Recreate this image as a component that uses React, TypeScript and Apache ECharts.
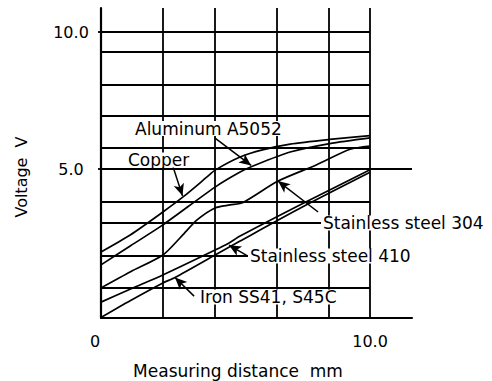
import React, { useEffect, useRef } from 'react';
import * as echarts from 'echarts';

const FONT = 'DejaVu Sans';

// axis extents (mm, V)
const X_MIN = 0;
const X_MAX = 11.56;
const Y_MIN = -0.44;
const Y_MAX = 10.88;
const GRID_X_END = 10;

// tick labels
const xTickValues = [0, 10];
const yTickValues = [5, 10];

// irregular chart grid
const gridXValues = [2.31, 4.21, 6.53, 8.45, 10];
const gridYValues = [0.655, 1.82, 3.03, 3.8, 5.77, 6.93, 8.07, 9.27, 10];
const extendedYValues = [5];

// curves: [distance mm, voltage V]
const copper = [[0, 1.97], [1.1, 2.6], [2.3, 3.43], [3.05, 3.98], [3.94, 4.71], [4.24, 4.96], [5.17, 5.44], [6.0, 5.7], [7.03, 5.91], [8.5, 6.08], [10, 6.22]];
const aluminum = [[0, 1.5], [1.1, 2.2], [2.3, 2.96], [4.24, 4.34], [5.17, 4.89], [5.65, 5.11], [7.03, 5.62], [8.5, 5.93], [10, 6.14]];
const ss304 = [[0, 0.66], [1.1, 1.25], [2.3, 1.86], [3.0, 2.55], [3.57, 3.14], [4.24, 3.58], [4.8, 3.69], [5.28, 3.78], [6.58, 4.56], [8.0, 5.15], [9.26, 5.72], [10, 5.84]];
const ss410 = [[0, 0.14], [1.1, 0.62], [2.3, 1.13], [4.24, 2.04], [4.76, 2.3], [5.17, 2.55], [7.5, 3.74], [10, 4.97]];
const iron = [[0, -0.42], [1.1, 0.2], [2.3, 0.84], [2.75, 1.04], [4.24, 1.86], [5.17, 2.37], [7.5, 3.62], [10, 4.88]];

const seriesNames = ['Copper', 'Aluminum A5052', 'Stainless steel 304', 'Stainless steel 410', 'Iron SS41, S45C'];
const seriesData = [copper, aluminum, ss304, ss410, iron];

// leader arrows in data coordinates: [from, to]
const arrows = [
  [[4.24, 6.13], [5.58, 5.13]],
  [[2.68, 5.07], [3.03, 4.02]],
  [[8.07, 3.43], [6.58, 4.56]],
  [[5.46, 1.82], [4.76, 2.22]],
  [[3.46, 0.36], [2.75, 1.04]],
];

// annotation labels (pixel layout)
const labels = [
  { text: 'Aluminum A5052', x: 133, y: 128.5 },
  { text: 'Copper', x: 126, y: 160 },
  { text: 'Stainless steel 304', x: 321, y: 223 },
  { text: 'Stainless steel 410', x: 248, y: 256 },
  { text: 'Iron SS41, S45C', x: 198, y: 297 },
];

export default function App() {
  const ref = useRef<HTMLDivElement>(null);

  useEffect(() => {
    if (!ref.current) return;
    const chart = echarts.init(ref.current, undefined, { renderer: 'svg' });

    const gridLines: any[] = [];
    gridYValues.forEach((y) => {
      if (extendedYValues.includes(y)) return;
      gridLines.push([{ coord: [X_MIN, y] }, { coord: [GRID_X_END, y] }]);
    });
    extendedYValues.forEach((y) => {
      gridLines.push([{ coord: [X_MIN, y] }, { coord: [X_MAX, y] }]);
    });
    gridXValues.forEach((x) => {
      gridLines.push([{ coord: [x, Y_MIN] }, { coord: [x, Y_MAX] }]);
    });

    const arrowLines = arrows.map(([a, b]) => [{ coord: a }, { coord: b }]);

    const series: any[] = seriesData.map((d, i) => ({
      name: seriesNames[i],
      type: 'line',
      data: d,
      showSymbol: false,
      symbol: 'none',
      smooth: 0.25,
      lineStyle: { color: '#000', width: 1.7 },
      silent: true,
      z: 3,
    }));

    series.push({
      name: 'grid',
      type: 'line',
      data: [],
      silent: true,
      z: 2,
      markLine: {
        silent: true,
        symbol: ['none', 'none'],
        label: { show: false },
        emphasis: { disabled: true },
        lineStyle: { color: '#000', width: 1.8, type: 'solid' },
        data: gridLines,
      },
    });

    series.push({
      name: 'arrows',
      type: 'line',
      data: [],
      silent: true,
      z: 4,
      markLine: {
        silent: true,
        symbol: ['none', 'arrow'],
        symbolSize: [8, 12],
        label: { show: false },
        emphasis: { disabled: true },
        lineStyle: { color: '#000', width: 1.5, type: 'solid' },
        itemStyle: { color: '#000' },
        data: arrowLines,
      },
    });

    chart.setOption({
      animation: false,
      backgroundColor: '#fff',
      textStyle: { fontFamily: FONT, color: '#000' },
      grid: { left: 101, right: 80, top: 8, bottom: 63, containLabel: false, outerBoundsMode: 'none' },
      xAxis: {
        type: 'value',
        min: X_MIN,
        max: X_MAX,
        axisLine: { show: true, onZero: false, lineStyle: { color: '#000', width: 2.2 } },
        axisTick: { show: false },
        splitLine: { show: false },
        axisLabel: {
          customValues: xTickValues,
          formatter: (v: number) => (v === 0 ? '{z|0}' : v.toFixed(1)),
          margin: 15,
          fontSize: 16,
          color: '#000',
          fontFamily: FONT,
          rich: { z: { padding: [0, 12, 0, 0], fontSize: 16, fontFamily: FONT, color: '#000' } },
        },
        name: 'Measuring distance  mm',
        nameLocation: 'middle',
        nameGap: 44,
        nameTextStyle: { fontSize: 17, color: '#000', fontFamily: FONT, padding: [0, 37, 0, 0] },
      },
      yAxis: {
        type: 'value',
        min: Y_MIN,
        max: Y_MAX,
        axisLine: { show: true, onZero: false, lineStyle: { color: '#000', width: 2.2 } },
        axisTick: { show: true, customValues: yTickValues, length: 3, lineStyle: { color: '#000', width: 1.8 } },
        splitLine: { show: false },
        axisLabel: {
          customValues: yTickValues,
          formatter: (v: number) => v.toFixed(1),
          align: 'center',
          margin: 30,
          fontSize: 16,
          color: '#000',
          fontFamily: FONT,
        },
        name: 'Voltage  V',
        nameLocation: 'middle',
        nameRotate: 90,
        nameGap: 72,
        nameTextStyle: { fontSize: 16, color: '#000', fontFamily: FONT, padding: [0, 28, 0, 0] },
      },
      series,
      graphic: labels.map((l) => ({
        type: 'text',
        x: l.x,
        y: l.y,
        z: 100,
        silent: true,
        style: {
          text: l.text,
          fill: '#000',
          fontSize: 17,
          fontFamily: FONT,
          align: 'left',
          verticalAlign: 'middle',
          backgroundColor: '#fff',
          padding: [0, 2],
          lineHeight: 15,
        },
      })),
    });

    return () => chart.dispose();
  }, []);

  return (
    <div
      ref={ref}
      style={{ position: 'fixed', left: 0, top: 0, width: 492, height: 381, background: '#fff' }}
    />
  );
}
